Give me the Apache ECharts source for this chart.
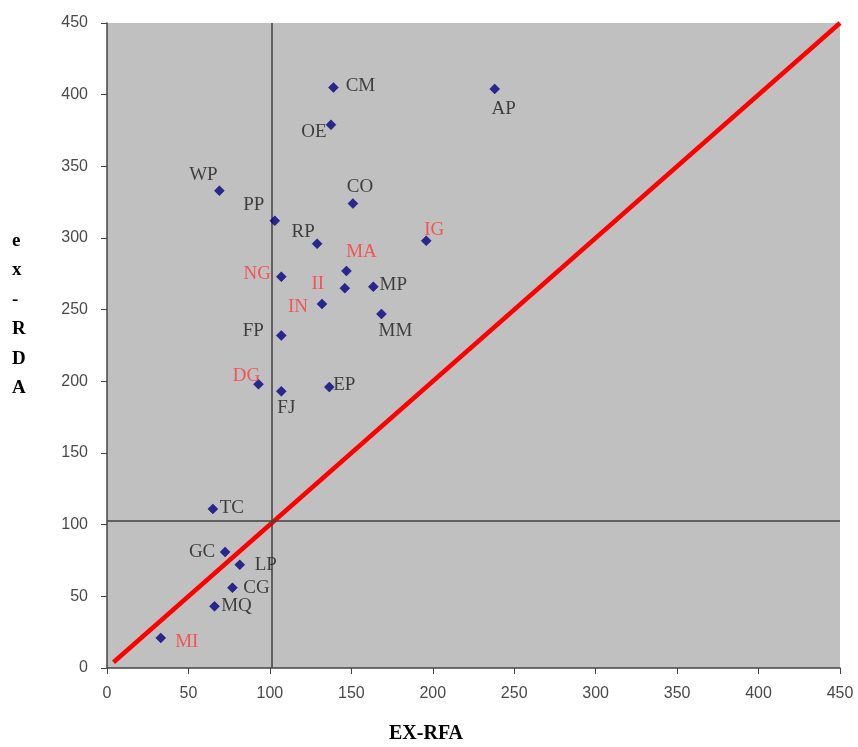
<!DOCTYPE html>
<html><head><meta charset="utf-8">
<script src="https://cdn.jsdelivr.net/npm/echarts@6/dist/echarts.min.js"></script>
<style>html,body{margin:0;padding:0;background:#fff}#c{width:858px;height:747px}</style>
</head><body><div id="c"></div>
<script>
const names = ["CM","OE","WP","PP","CO","RP","IG","MA","NG","II","MP","IN","MM","FP","DG","FJ","EP","TC","GC","LP","CG","MQ","MI","AP"];
const exRFA = [139,137.5,69,103,151,129,196,147,107,146,163.5,132,168.5,107,93,107,136.5,65,72.5,81.5,77,66,33,238];
const exRDA = [405,379,333,312,324,296,298,277,273,265,266,254,247,232,198,193,196,111,81,72,56,43,21,404];
const redNames = ["IG","MA","NG","II","IN","DG","MI"];
const refX = 101, refY = 103;
const diagonal = [[4,4],[450,450]];

// label centre offsets from the marker (pixels) - styling only
const labelOffset = {
  CM:[27,-1], OE:[-17,7], WP:[-16,-16], PP:[-21,-16], CO:[7,-17], RP:[-14,-12],
  IG:[8,-11], MA:[15,-19], NG:[-24,-3], II:[-27,-4], MP:[20,-2], IN:[-24,3],
  MM:[14,17], FP:[-28,-4], DG:[-12,-8], FJ:[5,17], EP:[15,-2], TC:[19,-1],
  GC:[-23,0], LP:[26,0], CG:[24,0], MQ:[22,0], MI:[26,4], AP:[9,20]
};

const pts = names.map((n,i)=>({
  name:n, value:[exRFA[i], exRDA[i]],
  label:{show:true, formatter:n, position:'inside', align:'center', verticalAlign:'middle',
    offset:labelOffset[n], color: redNames.includes(n)?'#ff3a3a':'#1c1c1c',
    fontFamily:'Liberation Serif', fontSize:19}
}));

const tickFont = {color:'#4a4a4a',fontFamily:'Liberation Sans',fontSize:16};
const chart = echarts.init(document.getElementById('c'));
chart.setOption({
  animation:false,
  grid:{left:107,right:18,top:23,bottom:79,show:true,backgroundColor:'#c0c0c0',borderWidth:0},
  xAxis:{type:'value',min:0,max:450,interval:50,
    axisLine:{show:true,onZero:false,lineStyle:{color:'#444',width:1.5}},
    axisTick:{show:true,length:6,lineStyle:{color:'#444'}},
    axisLabel:Object.assign({margin:18},tickFont),
    splitLine:{show:false}},
  yAxis:{type:'value',min:0,max:450,interval:50,
    axisLine:{show:true,onZero:false,lineStyle:{color:'#444',width:1.5}},
    axisTick:{show:true,length:6,lineStyle:{color:'#444'}},
    axisLabel:Object.assign({margin:19},tickFont),
    splitLine:{show:false}},
  graphic:[
    {type:'text',left:389,top:724,style:{text:'EX-RFA',font:'bold 20px "Liberation Serif"',fill:'#000'}},
    {type:'text',left:12,top:226,style:{text:'e\nx\n-\nR\nD\nA',font:'bold 19px "Liberation Serif"',fill:'#000',lineHeight:29.5,align:'left'}}
  ],
  series:[
    {type:'line',data:diagonal,symbol:'none',lineStyle:{color:'#ff0000',width:4.5},z:3,silent:true},
    {type:'scatter',data:pts,symbol:'diamond',symbolSize:10,itemStyle:{color:'#000080',borderColor:'#000070',borderWidth:0.5},z:5,
      markLine:{silent:true,symbol:'none',label:{show:false},lineStyle:{color:'#404040',width:1.5,type:'solid'},
        data:[{xAxis:refX},{yAxis:refY}]}}
  ]
});
</script></body></html>
